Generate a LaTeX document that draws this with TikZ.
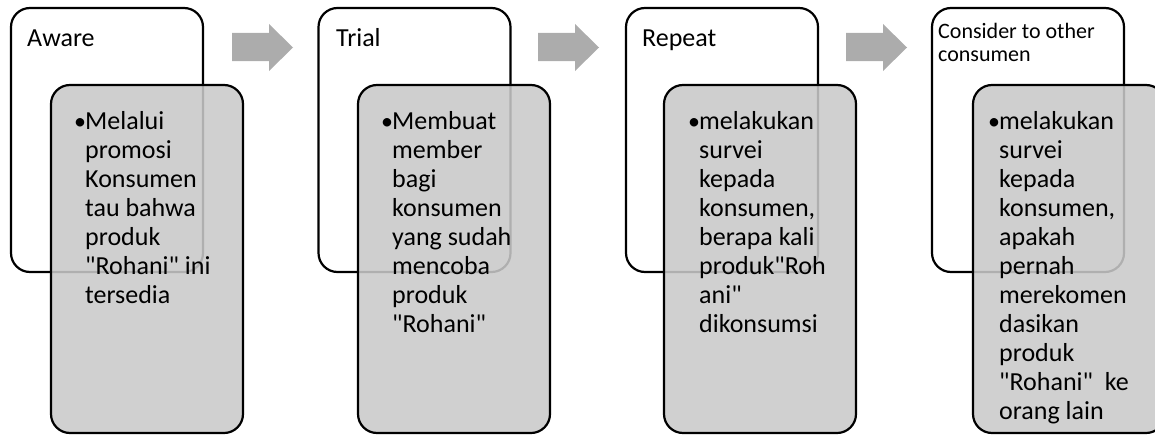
\documentclass[tikz,border=0pt]{standalone}
\usepackage{fontspec}
\setmainfont{Carlito}[Ligatures=TeXOff]
\definecolor{cardgray}{RGB}{201,201,201}
\definecolor{flowgray}{RGB}{172,172,172}
\begin{document}
\begin{tikzpicture}[x=1pt,y=-1pt,
  stage/.style={draw=black, line width=2.2pt, rounded corners=19pt, fill=white,
    minimum width=192pt, minimum height=264pt, inner sep=0pt, outer sep=0pt},
  detail/.style={draw=black, line width=2.2pt, rounded corners=19pt, fill=cardgray,
    fill opacity=0.875, minimum width=192pt, minimum height=348pt, inner sep=0pt, outer sep=0pt},
  flow/.style={fill=flowgray, draw=none},
  head/.style={anchor=base west, inner sep=0pt, font=\fontsize{26}{29}\selectfont},
  smallhead/.style={anchor=base west, inner sep=0pt, font=\fontsize{22}{23}\selectfont},
  line/.style={anchor=base west, inner sep=0pt, font=\fontsize{26}{29}\selectfont},
  dot/.style={anchor=base west, inner sep=0pt, font=\fontsize{24}{29}\selectfont}]
\useasboundingbox (0,0) rectangle (1155,436);
\clip (0,0) rectangle (1155,436);

% stage cards (white, back)
\node[stage] (s1) at (107,140) {};
\node[stage] (s2) at (414.5,140) {};
\node[stage] (s3) at (722,140) {};
\node[stage] (s4) at (1028,140) {};

% stage titles
\node[head] (h1) at (27,46) {Aware};
\node[head] (h2) at (336,46) {Trial};
\node[head] (h3) at (642,46) {Repeat};
\node[smallhead] (h4a) at (938,39) {Consider to other};
\node[smallhead] (h4b) at (938,62) {consumen};

% block arrows between stages
\foreach \dx in {0,306,614}{
  \fill[flow] (232+\dx,33) -- (269+\dx,33) -- (269+\dx,24) -- (293+\dx,47.5)
    -- (269+\dx,71) -- (269+\dx,61) -- (232+\dx,61) -- cycle;
}

% detail cards (grey, front, slightly translucent)
\node[detail] (d1) at (147,259) {};
\node[detail] (d2) at (454,259) {};
\node[detail] (d3) at (760,259) {};
\node[detail] (d4) at (1069,259) {};

% card texts
\node[dot] (b1) at (74,129) {•};
\foreach \t [count=\i from 0] in {Melalui, promosi, Konsumen, tau bahwa, produk, "Rohani" ini, tersedia}
  \node[line] (t1-\i) at (85,129+29*\i) {\t};

\node[dot] (b2) at (381,129) {•};
\foreach \t [count=\i from 0] in {Membuat, member, bagi, konsumen, yang sudah, mencoba, produk, "Rohani"}
  \node[line] (t2-\i) at (392,129+29*\i) {\t};

\node[dot] (b3) at (688,129) {•};
\foreach \t [count=\i from 0] in {melakukan, survei, kepada, {konsumen,}, berapa kali, produk"Roh, ani", dikonsumsi}
  \node[line] (t3-\i) at (699,129+29*\i) {\t};

\node[dot] (b4) at (988,129) {•};
\foreach \t [count=\i from 0] in {melakukan, survei, kepada, {konsumen,}, apakah, pernah, merekomen, dasikan, produk, "Rohani"\ \ ke, orang lain}
  \node[line] (t4-\i) at (999,129+29*\i) {\t};
\end{tikzpicture}
\end{document}
